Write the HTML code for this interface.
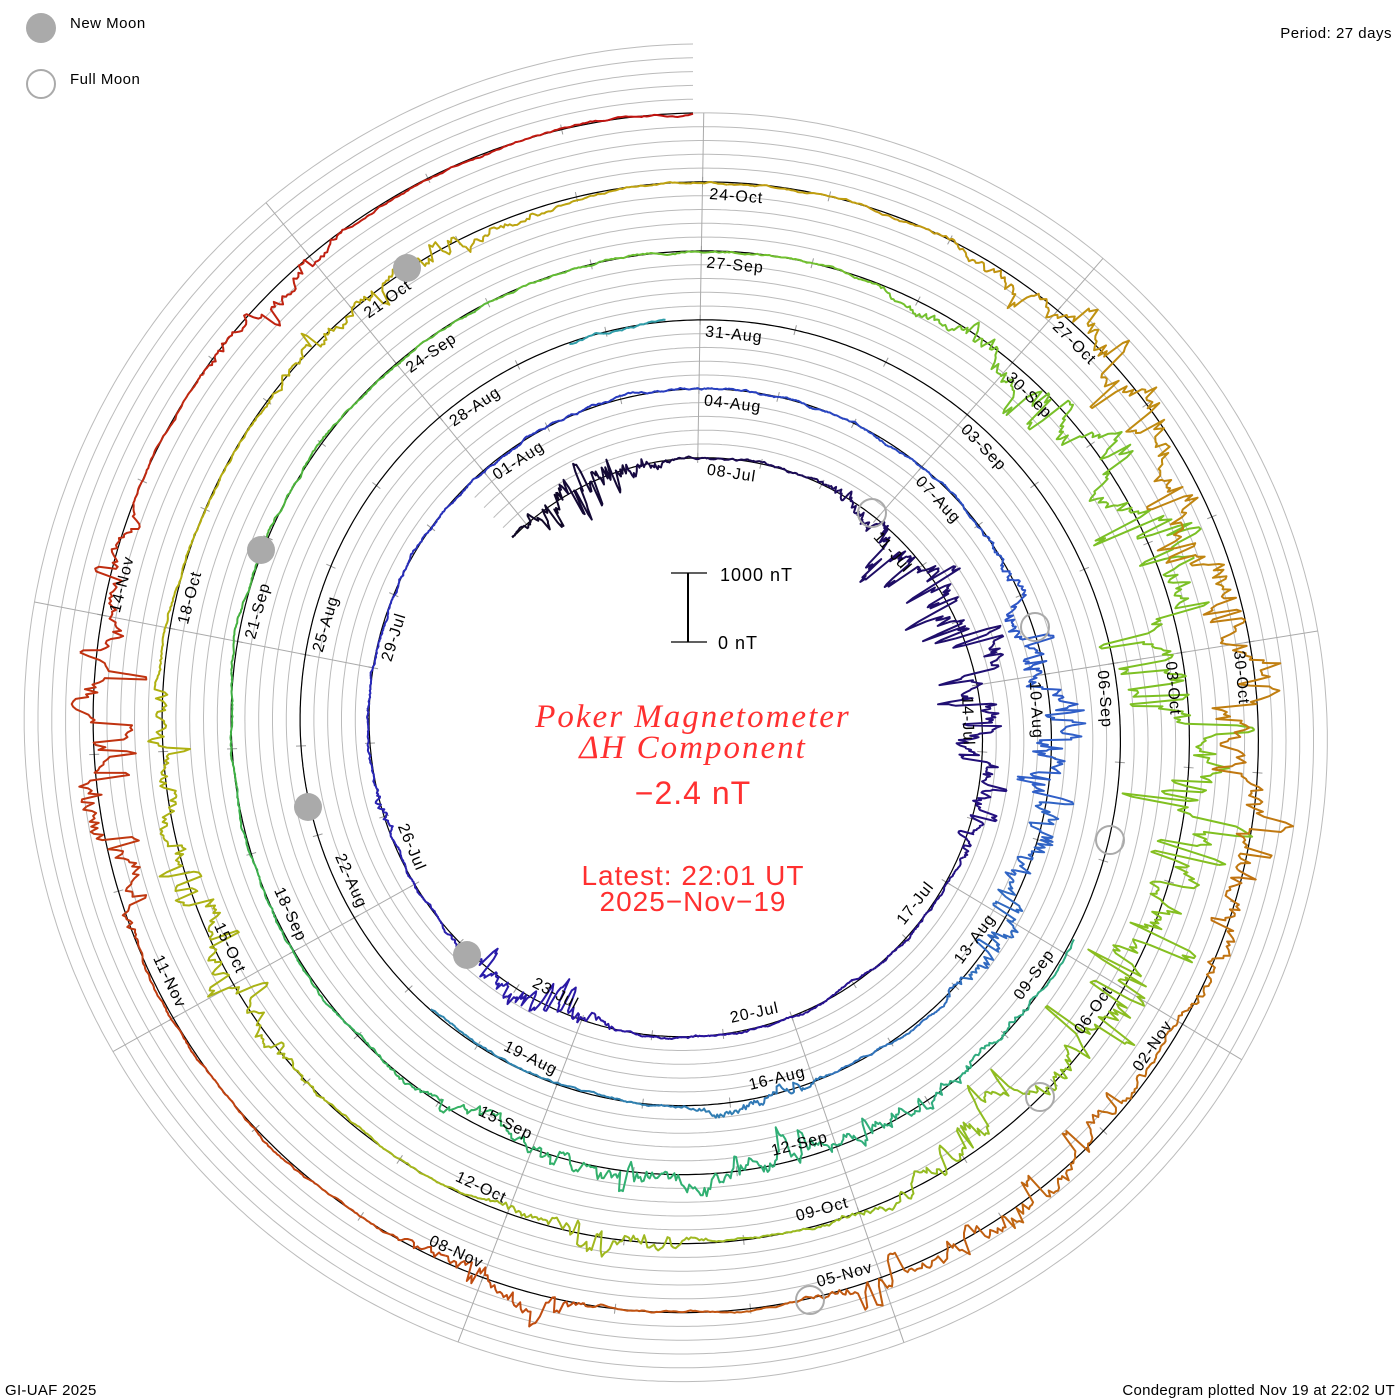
<!DOCTYPE html>
<html><head><meta charset="utf-8">
<style>
html,body{margin:0;padding:0;background:#fff;}
svg{display:block;}
text{font-family:"Liberation Sans",sans-serif;}
</style></head>
<body>
<svg id="s" width="1400" height="1400" viewBox="0 0 1400 1400" xmlns="http://www.w3.org/2000/svg">
<g id="grid"></g>
<g id="traces"></g>
<g id="labels"></g>
<g id="moons" fill="none" stroke="#aaa" stroke-width="2">
<circle cx="407" cy="268" r="14" fill="#aaa" stroke="none"/>
<circle cx="261" cy="550" r="14" fill="#aaa" stroke="none"/>
<circle cx="308" cy="807" r="14" fill="#aaa" stroke="none"/>
<circle cx="467" cy="955" r="14" fill="#aaa" stroke="none"/>
<circle cx="872" cy="513" r="14"/>
<circle cx="1035" cy="627" r="14"/>
<circle cx="1110" cy="840" r="14"/>
<circle cx="1040" cy="1097" r="14"/>
<circle cx="810" cy="1300" r="14"/>
</g>
<circle cx="41" cy="28" r="15" fill="#aaa"/>
<text x="70" y="28" font-size="15" fill="#000" letter-spacing="0.5">New Moon</text>
<circle cx="41" cy="84" r="14" fill="none" stroke="#aaa" stroke-width="2"/>
<text x="70" y="84" font-size="15" fill="#000" letter-spacing="0.5">Full Moon</text>
<text x="1392" y="38" font-size="15" text-anchor="end" letter-spacing="0.5">Period: 27 days</text>
<text x="5" y="1395" font-size="15" letter-spacing="0.3">GI-UAF 2025</text>
<text x="1395" y="1395" font-size="15" text-anchor="end" letter-spacing="0.3">Condegram plotted Nov 19 at 22:02 UT</text>
<g stroke="#000" stroke-width="2"><line x1="688" y1="573" x2="688" y2="642"/><line x1="671" y1="573" x2="707" y2="573" stroke-width="1.2"/><line x1="671" y1="642" x2="707" y2="642" stroke-width="1.2"/></g>
<text x="720" y="581" font-size="18" letter-spacing="1">1000 nT</text>
<text x="718" y="649" font-size="18" letter-spacing="1">0 nT</text>
<g fill="#ff3030" text-anchor="middle">
<text x="693" y="727" font-size="33" font-style="italic" style="font-family:'Liberation Serif',serif" letter-spacing="2">Poker Magnetometer</text>
<text x="693" y="758" font-size="33" font-style="italic" style="font-family:'Liberation Serif',serif" letter-spacing="2">ΔH Component</text>
<text x="693" y="804" font-size="32" letter-spacing="1">−2.4 nT</text>
<text x="693" y="885" font-size="28" letter-spacing="1">Latest: 22:01 UT</text>
<text x="693" y="911" font-size="28" letter-spacing="1">2025−Nov−19</text>
</g>
</svg>
<script>
(function(){
var NS="http://www.w3.org/2000/svg";
var cx=693,cy=730,A=272,B=69;
function P(t,off){var th=2*Math.PI*t;var r=A+B*t+off;return [cx+r*Math.sin(th),cy-r*Math.cos(th)];}
function el(tag,attrs,parent){var e=document.createElementNS(NS,tag);for(var k in attrs)e.setAttribute(k,attrs[k]);parent.appendChild(e);return e;}
var grid=document.getElementById('grid'),tr=document.getElementById('traces'),lab=document.getElementById('labels');
var T0=-0.12,T1=5.0;
function spiralPath(off,t0,t1){var d="",n=Math.ceil((t1-t0)*720);for(var i=0;i<=n;i++){var t=t0+(t1-t0)*i/n;var p=P(t,off);d+=(i?"L":"M")+p[0].toFixed(1)+" "+p[1].toFixed(1);}return d;}
for(var j=1;j<=5;j++){el('path',{d:spiralPath(j*B/5,T0,T1),fill:'none',stroke:'#bbb','stroke-width':1},grid);}
for(var k=0;k<9;k++){var deg=1+40*k;var f=deg/360;var th=deg*Math.PI/180;
 var r1=A+B*f,r2=A+B*(f+5);if(f>0.88)r1=A+B*(f-1);
 el('line',{x1:cx+r1*Math.sin(th),y1:cy-r1*Math.cos(th),x2:cx+r2*Math.sin(th),y2:cy-r2*Math.cos(th),stroke:'#aaa','stroke-width':1},grid);}
for(var d=0;d<140;d++){var t=(1+d*360/27)/360;if(t>T1||t<T0)continue;var a=P(t,-5),b=P(t,5);
 el('line',{x1:a[0],y1:a[1],x2:b[0],y2:b[1],stroke:'#999','stroke-width':1},grid);}
el('path',{d:spiralPath(0,T0,T1),fill:'none',stroke:'#000','stroke-width':1.2},grid);
var cs=[[-0.12,[16,8,40]],[0,[26,10,80]],[0.25,[34,16,122]],[0.5,[42,20,160]],[0.75,[40,40,184]],[1,[40,64,192]],[1.25,[48,96,200]],[1.5,[48,128,176]],[2,[48,160,168]],[2.5,[48,176,112]],[2.75,[64,176,64]],[3,[112,192,48]],[3.25,[128,192,32]],[3.5,[160,184,32]],[3.75,[176,176,16]],[4,[192,160,16]],[4.25,[192,120,16]],[4.5,[192,80,16]],[4.75,[192,48,16]],[5,[192,16,16]]];
function col(t){for(var i=0;i<cs.length-1;i++){if(t<=cs[i+1][0]){var u=(t-cs[i][0])/(cs[i+1][0]-cs[i][0]);var c=cs[i][1],e=cs[i+1][1];return 'rgb('+[0,1,2].map(function(q){return Math.round(c[q]+(e[q]-c[q])*u);}).join(',')+')';}}return 'rgb(192,16,16)';}
var storms=[[-0.1,-0.02,50],[0.1,0.3,55],[0.55,0.63,40],[0.7,0.72,15],[1.18,1.36,55],[1.45,1.5,20],[2.38,2.6,30],[3.1,3.42,70],[3.5,3.56,30],[3.64,3.76,40],[3.86,3.95,25],[4.1,4.32,60],[4.36,4.46,40],[4.53,4.58,30],[4.7,4.8,50],[4.85,4.9,20]];
function S(t){var s=0;storms.forEach(function(z){var m=(z[0]+z[1])/2,h=(z[1]-z[0])/2;var x=(t-m)/h;if(Math.abs(x)<1.3){s=Math.max(s,z[2]*Math.max(0,1-x*x*0.6));}});return s;}
function gap(t){return (t>1.62&&t<1.95)||(t>1.99&&t<2.33);}
var seed=12345;function rnd(){seed|=0;seed=seed+0x6D2B79F5|0;var q=Math.imul(seed^seed>>>15,1|seed);q=q+Math.imul(q^q>>>7,61|q)^q;return((q^q>>>14)>>>0)/4294967296;}
var N=Math.round((T1-T0)*1500);var walk=0,spk=0,spkn=0,cur=[],curc=null;
function flush(){if(cur.length>1)el('path',{d:cur.join(''),fill:'none',stroke:curc,'stroke-width':2,'stroke-linejoin':'round'},tr);cur=[];}
for(var i=0;i<=N;i++){var t=T0+(T1-T0)*i/N;if(gap(t)){flush();continue;}
 var s=S(t);walk+=(rnd()-0.5)*(1.5+s*0.3);walk*=0.95;
 if(spkn>0){spkn--;}else{spk=0;if(s>0&&rnd()<0.07*(s/40)){var dir=rnd()<0.25?1:-1;spk=dir*s*(0.2+rnd()*0.6);spkn=1+Math.floor(rnd()*4);}}
 var off=walk+spk-s*0.2*rnd();
 var p=P(t,off);var c=col(t);
 if(cur.length==0){curc=c;cur.push('M'+p[0].toFixed(1)+' '+p[1].toFixed(1));}
 else{cur.push('L'+p[0].toFixed(1)+' '+p[1].toFixed(1));if(cur.length>60){flush();curc=c;cur.push('M'+p[0].toFixed(1)+' '+p[1].toFixed(1));}}
}
flush();
var names=[["08-Jul","11-Jul","14-Jul","17-Jul","20-Jul","23-Jul","26-Jul","29-Jul","01-Aug"],
["04-Aug","07-Aug","10-Aug","13-Aug","16-Aug","19-Aug","22-Aug","25-Aug","28-Aug"],
["31-Aug","03-Sep","06-Sep","09-Sep","12-Sep","15-Sep","18-Sep","21-Sep","24-Sep"],
["27-Sep","30-Sep","03-Oct","06-Oct","09-Oct","12-Oct","15-Oct","18-Oct","21-Oct"],
["24-Oct","27-Oct","30-Oct","02-Nov","05-Nov","08-Nov","11-Nov","14-Nov",""]];
for(var n=0;n<5;n++)for(var k=0;k<9;k++){var nm=names[n][k];if(!nm)continue;
 var deg=1+40*k;var f=deg/360;var rb=A+B*(n+f);var r=rb-13;var thc=deg*Math.PI/180+34/r;
 var x=cx+r*Math.sin(thc),y=cy-r*Math.cos(thc);var rd=thc*180/Math.PI;var rot=(rd>90&&rd<270)?rd-180:rd;
 var te=el('text',{x:x.toFixed(1),y:y.toFixed(1),'font-size':16,'text-anchor':'middle','dominant-baseline':'central','letter-spacing':1,transform:'rotate('+rot.toFixed(1)+' '+x.toFixed(1)+' '+y.toFixed(1)+')'},lab);te.textContent=nm;}
})();
</script>
</body></html>
